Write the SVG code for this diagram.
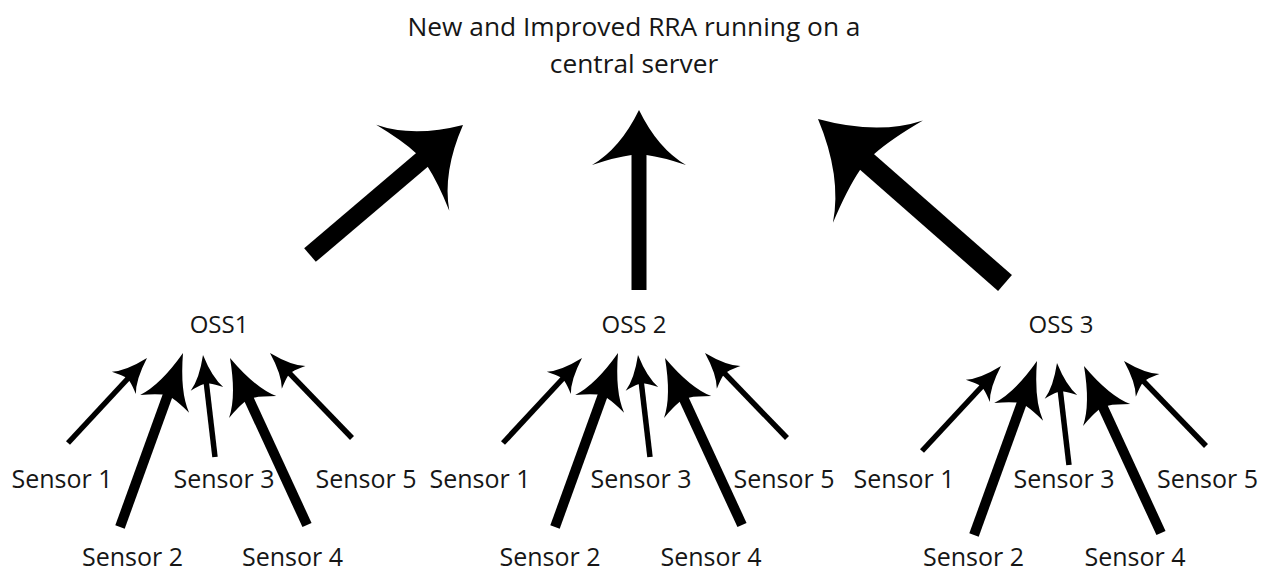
<svg xmlns="http://www.w3.org/2000/svg" xmlns:xlink="http://www.w3.org/1999/xlink" width="1268" height="573" viewBox="0 0 1268 573">
<style>
  text { font-family: "Open Sans", "Liberation Sans", sans-serif; fill: #161616; text-anchor: middle; }
  .title { font-size: 26.3px; }
  .lbl { font-size: 25px; }
  .oss { font-size: 24px; }
  .shaft { stroke: #000; fill: none; stroke-linecap: butt; }
  .thin { stroke-width: 5.5; }
  .thick { stroke-width: 10; }
  .head { fill: #000; }
</style>
<defs>
  <path id="bigHead" d="M0,0 Q-38.5,-18.8 -55,-47 Q-47,-23 -45,-7.5 L-45,7.5 Q-47,23 -55,47 Q-38.5,18.8 0,0 Z"/>
  <path id="sensorHead" d="M0,0 Q-37.8,-10.4 -54,-26 Q-48,-13 -46,-5 L-46,5 Q-48,13 -54,26 Q-37.8,10.4 0,0 Z"/>
</defs>
<rect width="1268" height="573" fill="#ffffff"/>

<g id="connectors">
  <g id="big-arrows">
    <g id="arrow-oss1-server">
      <line class="shaft" x1="310" y1="255" x2="422.6" y2="159.3" stroke-width="18"/>
      <use xlink:href="#bigHead" class="head" transform="translate(463,125) rotate(-40.4) scale(1.2)"/>
    </g>
    <g id="arrow-oss2-server">
      <line class="shaft" x1="639" y1="290" x2="639" y2="154" stroke-width="15"/>
      <use xlink:href="#bigHead" class="head" transform="translate(639,110) rotate(-90)"/>
    </g>
    <g id="arrow-oss3-server">
      <line class="shaft" x1="1005" y1="283" x2="866.1" y2="161.2" stroke-width="21"/>
      <use xlink:href="#bigHead" class="head" transform="translate(818,119) rotate(-138.7) scale(1.45)"/>
    </g>
  </g>
  <g id="sensor-arrows-oss1">
    <line class="shaft thin" x1="68" y1="443" x2="127.9" y2="378.5"/>
    <use xlink:href="#sensorHead" class="head" transform="translate(147,358) rotate(-47.1) scale(0.63)"/>
    <line class="shaft thick" x1="120" y1="527" x2="167.7" y2="395.3"/>
    <use xlink:href="#sensorHead" class="head" transform="translate(183,353) rotate(-70.1)"/>
    <line class="shaft thin" x1="215" y1="457" x2="206.3" y2="382.8"/>
    <use xlink:href="#sensorHead" class="head" transform="translate(203,355) rotate(-96.7) scale(0.63)"/>
    <line class="shaft thick" x1="307" y1="525" x2="248.8" y2="398.9"/>
    <use xlink:href="#sensorHead" class="head" transform="translate(230,358) rotate(-114.8)"/>
    <line class="shaft thin" x1="352" y1="438" x2="289.4" y2="373.2"/>
    <use xlink:href="#sensorHead" class="head" transform="translate(270,353) rotate(-134) scale(0.63)"/>
  </g>
  <g id="sensor-arrows-oss2" transform="translate(435,0)">
    <line class="shaft thin" x1="68" y1="443" x2="127.9" y2="378.5"/>
    <use xlink:href="#sensorHead" class="head" transform="translate(147,358) rotate(-47.1) scale(0.63)"/>
    <line class="shaft thick" x1="120" y1="527" x2="167.7" y2="395.3"/>
    <use xlink:href="#sensorHead" class="head" transform="translate(183,353) rotate(-70.1)"/>
    <line class="shaft thin" x1="215" y1="457" x2="206.3" y2="382.8"/>
    <use xlink:href="#sensorHead" class="head" transform="translate(203,355) rotate(-96.7) scale(0.63)"/>
    <line class="shaft thick" x1="307" y1="525" x2="248.8" y2="398.9"/>
    <use xlink:href="#sensorHead" class="head" transform="translate(230,358) rotate(-114.8)"/>
    <line class="shaft thin" x1="352" y1="438" x2="289.4" y2="373.2"/>
    <use xlink:href="#sensorHead" class="head" transform="translate(270,353) rotate(-134) scale(0.63)"/>
  </g>
  <g id="sensor-arrows-oss3" transform="translate(854,8)">
    <line class="shaft thin" x1="68" y1="443" x2="127.9" y2="378.5"/>
    <use xlink:href="#sensorHead" class="head" transform="translate(147,358) rotate(-47.1) scale(0.63)"/>
    <line class="shaft thick" x1="120" y1="527" x2="167.7" y2="395.3"/>
    <use xlink:href="#sensorHead" class="head" transform="translate(183,353) rotate(-70.1)"/>
    <line class="shaft thin" x1="215" y1="457" x2="206.3" y2="382.8"/>
    <use xlink:href="#sensorHead" class="head" transform="translate(203,355) rotate(-96.7) scale(0.63)"/>
    <line class="shaft thick" x1="307" y1="525" x2="248.8" y2="398.9"/>
    <use xlink:href="#sensorHead" class="head" transform="translate(230,358) rotate(-114.8)"/>
    <line class="shaft thin" x1="352" y1="438" x2="289.4" y2="373.2"/>
    <use xlink:href="#sensorHead" class="head" transform="translate(270,353) rotate(-134) scale(0.63)"/>
  </g>
</g>

<g id="server">
  <text class="title" x="634" y="35.5">New and Improved RRA running on a</text>
  <text class="title" x="634" y="72.5">central server</text>
</g>

<g id="oss1"><text class="oss" x="219" y="333">OSS1</text></g>
<g id="oss2"><text class="oss" x="634" y="333">OSS 2</text></g>
<g id="oss3"><text class="oss" x="1061" y="333">OSS 3</text></g>

<g id="oss1-sensor1"><text class="lbl" x="62" y="488">Sensor 1</text></g>
<g id="oss1-sensor2"><text class="lbl" x="132.5" y="566">Sensor 2</text></g>
<g id="oss1-sensor3"><text class="lbl" x="224" y="488">Sensor 3</text></g>
<g id="oss1-sensor4"><text class="lbl" x="292.5" y="566">Sensor 4</text></g>
<g id="oss1-sensor5"><text class="lbl" x="366" y="488">Sensor 5</text></g>

<g id="oss2-sensor1"><text class="lbl" x="480" y="488">Sensor 1</text></g>
<g id="oss2-sensor2"><text class="lbl" x="550" y="566">Sensor 2</text></g>
<g id="oss2-sensor3"><text class="lbl" x="641" y="488">Sensor 3</text></g>
<g id="oss2-sensor4"><text class="lbl" x="711" y="566">Sensor 4</text></g>
<g id="oss2-sensor5"><text class="lbl" x="784" y="488">Sensor 5</text></g>

<g id="oss3-sensor1"><text class="lbl" x="904" y="488">Sensor 1</text></g>
<g id="oss3-sensor2"><text class="lbl" x="973.5" y="566">Sensor 2</text></g>
<g id="oss3-sensor3"><text class="lbl" x="1064" y="488">Sensor 3</text></g>
<g id="oss3-sensor4"><text class="lbl" x="1135" y="566">Sensor 4</text></g>
<g id="oss3-sensor5"><text class="lbl" x="1207.5" y="488">Sensor 5</text></g>
</svg>
